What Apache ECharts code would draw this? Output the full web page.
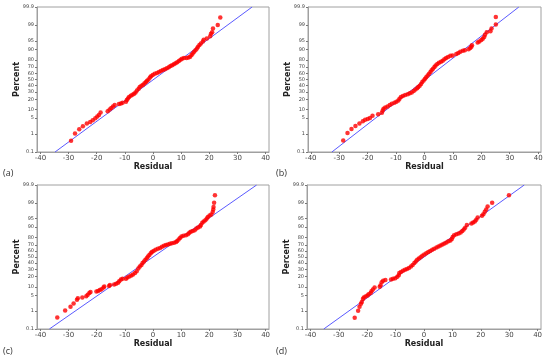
<!DOCTYPE html>
<html><head><meta charset="utf-8">
<script src="https://cdn.jsdelivr.net/npm/echarts@6/dist/echarts.min.js"></script>
<style>html,body{margin:0;padding:0;background:#fff}#c{width:550px;height:360px}</style>
</head><body><div id="c"></div>
<script>
// ---- data (residual, percent) ----
const resA = [-29.1,-27.7,-26.2,-24.9,-23.5,-22.3,-21.4,-20.5,-19.8,-19.2,-18.6,-16.1,-15.4,-14.8,-14.2,-13.6,-12.1,-11.4,-10.8,-9.6,-9.3,-8.9,-8.5,-7.9,-7.3,-6.7,-6.2,-5.7,-5.1,-4.7,-4.1,-3.5,-3.0,-2.5,-2.1,-1.6,-1.1,-0.7,-0.1,0.6,1.4,2.1,2.8,3.5,4.2,4.9,5.6,6.2,6.8,7.4,8.0,8.6,9.2,9.8,10.3,11.0,11.9,12.6,13.2,13.7,14.1,14.6,15.1,15.6,16.0,16.5,17.0,17.7,18.0,19.1,20.3,20.6,21.0,21.3,23.0,23.9];
const pctA = [0.45,1.07,1.70,2.33,3.01,3.51,4.09,4.95,5.71,6.55,7.93,8.85,10.0,11.3,12.5,13.8,14.9,15.4,16.1,17.1,19.2,20.9,22.7,24.5,25.8,27.1,29.1,31.9,34.8,37.4,39.7,41.3,43.6,45.6,48.0,50.0,53.2,55.6,57.5,59.5,61.0,62.6,64.1,65.9,67.0,68.4,69.8,71.6,72.9,74.2,75.5,77.0,78.5,80.0,81.1,81.9,82.1,82.6,83.4,85.1,86.7,88.1,89.4,90.7,91.8,92.9,93.8,94.7,95.5,96.0,96.7,97.45,97.8,98.5,99.0,99.59];

const resB = [-28.6,-27.1,-25.7,-24.3,-22.9,-21.7,-20.9,-20.0,-19.2,-18.3,-16.3,-15.0,-14.7,-14.4,-13.8,-13.0,-12.2,-11.5,-10.6,-9.9,-9.2,-8.8,-8.3,-7.6,-6.8,-5.9,-5.2,-4.5,-3.8,-3.2,-2.6,-2.2,-1.7,-1.2,-0.8,-0.3,0.2,0.6,1.1,1.6,2.1,2.5,3.0,3.5,3.9,4.5,5.1,5.8,6.4,7.0,7.6,8.3,9.1,9.9,11.2,11.9,12.6,13.5,14.2,15.5,16.1,16.5,16.7,18.7,19.3,20.0,20.5,21.0,21.3,21.9,23.2,23.6,25.1,25.1];
const pctB = [0.47,1.13,1.74,2.39,3.07,3.75,4.27,4.65,5.05,6.06,6.94,7.78,9.34,10.56,11.7,12.5,13.8,15.15,16.1,17.1,18.4,20.6,22.7,24.2,25.5,26.4,27.8,29.1,31.2,33.4,35.6,37.4,39.7,42.5,45.6,48.4,51.2,54.0,56.7,59.5,62.6,65.2,67.7,70.2,72.6,74.5,76.4,77.6,78.8,80.5,82.1,83.1,84.4,84.8,86.2,87.1,88.1,88.9,89.4,90.1,91.0,91.9,92.8,94.3,94.7,95.35,95.9,96.5,97.2,97.8,98.0,98.5,99.04,99.61];

const resC = [-34.0,-31.2,-29.3,-28.2,-27.0,-26.7,-25.1,-23.7,-23.2,-22.6,-22.2,-20.1,-19.5,-18.9,-18.3,-17.6,-17.3,-15.6,-15.3,-13.8,-13.1,-12.4,-12.0,-11.4,-10.8,-9.6,-9.1,-8.4,-7.7,-7.1,-6.4,-5.8,-5.2,-4.7,-4.1,-3.7,-3.2,-2.7,-2.2,-1.8,-1.3,-0.8,-0.4,0.2,0.9,1.7,2.5,3.2,3.9,4.6,5.3,6.0,6.7,7.5,8.2,8.6,9.1,9.6,10.1,10.8,11.7,12.4,12.9,13.4,14.1,14.8,15.4,16.0,16.7,17.0,17.5,18.0,18.6,19.1,19.5,20.1,20.7,21.2,21.4,21.5,21.7,22.0];
const pctC = [0.47,1.07,1.62,2.28,3.36,3.84,4.09,4.65,5.26,6.18,6.68,6.94,7.21,7.78,8.38,9.51,10.2,10.75,11.5,11.9,12.5,13.35,14.9,16.6,17.4,17.6,18.9,20.0,21.5,22.7,24.5,27.1,31.2,34.1,36.7,39.7,42.5,45.2,48.0,50.8,53.6,56.4,58.7,60.3,62.2,63.7,65.2,67.0,68.4,69.5,70.5,71.6,72.2,72.9,73.9,75.5,77.3,79.4,81.1,81.9,82.6,83.6,85.1,86.0,86.7,87.5,88.9,89.8,90.5,91.6,92.9,93.6,94.3,95.05,95.7,96.25,96.6,97.3,97.9,98.4,99.0,99.6];

const resD = [-24.4,-23.2,-22.7,-22.2,-21.9,-21.5,-21.2,-20.6,-19.9,-19.5,-18.8,-18.5,-18.0,-17.4,-15.6,-15.3,-14.9,-14.4,-13.6,-11.6,-10.9,-10.1,-9.4,-8.9,-8.7,-8.1,-7.4,-6.7,-6.0,-5.3,-4.6,-4.0,-3.4,-2.9,-2.4,-1.8,-1.2,-0.6,0.1,0.8,1.5,2.2,2.9,3.6,4.4,5.1,5.8,6.5,7.2,7.9,8.6,9.3,9.8,10.1,10.6,11.4,12.2,12.9,13.5,14.0,14.5,15.1,16.7,17.3,17.9,18.4,18.9,20.4,20.9,21.4,21.9,22.4,24.0,29.9];
const pctD = [0.45,1.04,1.62,2.22,2.68,3.59,4.09,4.46,4.95,5.48,6.18,7.08,8.08,9.51,10.03,11.31,14.0,15.4,16.1,16.6,17.4,18.1,19.8,21.8,24.5,26.1,27.8,29.1,30.5,31.9,34.1,36.7,39.7,42.5,45.2,47.6,49.6,52.0,54.4,56.4,58.7,60.3,62.2,63.7,65.9,67.4,68.8,70.5,71.9,73.2,74.9,76.1,77.9,80.5,82.6,83.6,84.4,85.3,86.7,88.1,89.6,91.6,92.5,93.1,93.6,94.5,95.5,96.2,96.7,97.4,97.9,98.5,99.0,99.6];

// fitted reference lines: residual at 0.1% and 99.9%
const fitPct = [0.1, 99.9];
const fitResA = [-34.8, 35.2];
const fitResB = [-32.6, 33.2];
const fitResC = [-36.8, 36.8];
const fitResD = [-35.3, 35.3];

const xTicks = [-40,-30,-20,-10,0,10,20,30,40];
const yTickLabels = ['0.1','1','5','10','20','30','40','50','60','70','80','90','95','99','99.9'];
const panelNames = ['(a)','(b)','(c)','(d)'];

// ---- normal probability scale (inverse normal CDF) ----
function probit(p){
  const a=[-3.969683028665376e+01,2.209460984245205e+02,-2.759285104469687e+02,1.383577518672690e+02,-3.066479806614716e+01,2.506628277459239e+00];
  const b=[-5.447609879822406e+01,1.615858368580409e+02,-1.556989798598866e+02,6.680131188771972e+01,-1.328068155288572e+01];
  const c=[-7.784894002430293e-03,-3.223964580411365e-01,-2.400758277161838e+00,-2.549732539343734e+00,4.374664141464968e+00,2.938163982698783e+00];
  const d=[7.784695709041462e-03,3.224671290700398e-01,2.445134137142996e+00,3.754408661907416e+00];
  const pl=0.02425; let q,r;
  if(p<pl){q=Math.sqrt(-2*Math.log(p));return (((((c[0]*q+c[1])*q+c[2])*q+c[3])*q+c[4])*q+c[5])/((((d[0]*q+d[1])*q+d[2])*q+d[3])*q+1);}
  if(p<=1-pl){q=p-0.5;r=q*q;return (((((a[0]*r+a[1])*r+a[2])*r+a[3])*r+a[4])*r+a[5])*q/(((((b[0]*r+b[1])*r+b[2])*r+b[3])*r+b[4])*r+1);}
  q=Math.sqrt(-2*Math.log(1-p));return -(((((c[0]*q+c[1])*q+c[2])*q+c[3])*q+c[4])*q+c[5])/((((d[0]*q+d[1])*q+d[2])*q+d[3])*q+1);
}
const zOf = pct => probit(pct/100);
const yTickVals = yTickLabels.map(s => zOf(parseFloat(s)));
const zMin = zOf(0.1), zMax = zOf(99.9);
function yLabel(v){
  let best=0, bd=1e9;
  yTickVals.forEach((t,i)=>{const d=Math.abs(t-v); if(d<bd){bd=d;best=i;}});
  return yTickLabels[best];
}

const panels = [
  {res:resA, pct:pctA, fit:fitResA, grid:{left:37, top:7, width:232, height:145}, xr:41.2},
  {res:resB, pct:pctB, fit:fitResB, grid:{left:308, top:7, width:233, height:145}, xr:41},
  {res:resC, pct:pctC, fit:fitResC, grid:{left:37, top:185, width:232, height:144}, xr:41.2},
  {res:resD, pct:pctD, fit:fitResD, grid:{left:307, top:185, width:234, height:144}, xr:41.2}
];

const grids=[], xAxes=[], yAxes=[], series=[];
const fontFam = '"DejaVu Sans", Verdana, sans-serif';
panels.forEach((p,i)=>{
  grids.push(Object.assign({show:true, borderColor:'#a0a0a0', borderWidth:1, backgroundColor:'#fff'}, p.grid));
  xAxes.push({
    type:'value', gridIndex:i, min:-p.xr, max:p.xr,
    name:'Residual', nameLocation:'middle', nameGap:10,
    nameTextStyle:{fontSize:8, fontWeight:'bold', color:'#222', fontFamily:fontFam},
    axisLine:{show:true, onZero:false, lineStyle:{color:'#a0a0a0'}},
    axisTick:{show:true, length:2, customValues:xTicks, lineStyle:{color:'#777'}},
    axisLabel:{customValues:xTicks, fontSize:7, color:'#444', margin:3, fontFamily:fontFam},
    splitLine:{show:false}
  });
  yAxes.push({
    type:'value', gridIndex:i, min:zMin, max:zMax,
    name:'Percent', nameLocation:'middle', nameGap:16, nameMoveOverlap:false,
    nameTextStyle:{fontSize:8, fontWeight:'bold', color:'#222', fontFamily:fontFam},
    axisLine:{show:true, onZero:false, lineStyle:{color:'#a0a0a0'}},
    axisTick:{show:true, length:2, customValues:yTickVals, lineStyle:{color:'#777'}},
    axisLabel:{customValues:yTickVals, fontSize:5, color:'#444', margin:3, fontFamily:fontFam, formatter:yLabel},
    splitLine:{show:false}
  });
  series.push({
    type:'line', xAxisIndex:i, yAxisIndex:i, symbol:'none', silent:true,
    data: p.fit.map((x,k)=>[x, zOf(fitPct[k])]),
    lineStyle:{color:'#5a5aff', width:1}, animation:false, z:1
  });
  series.push({
    type:'scatter', xAxisIndex:i, yAxisIndex:i, symbol:'circle', symbolSize:4.5,
    data: p.res.map((x,k)=>[x, zOf(p.pct[k])]),
    itemStyle:{color:'#ff0000'}, animation:false, z:2
  });
});

const chart = echarts.init(document.getElementById('c'), null, {renderer:'canvas'});
chart.setOption({
  backgroundColor:'#fff',
  animation:false,
  grid:grids, xAxis:xAxes, yAxis:yAxes, series:series,
  graphic:[
    {type:'text', left:3, top:169, style:{text:panelNames[0], fontSize:9, fill:'#333', fontFamily:'"Open Sans", sans-serif'}},
    {type:'text', left:276, top:169, style:{text:panelNames[1], fontSize:9, fill:'#333', fontFamily:'"Open Sans", sans-serif'}},
    {type:'text', left:3, top:347, style:{text:panelNames[2], fontSize:9, fill:'#333', fontFamily:'"Open Sans", sans-serif'}},
    {type:'text', left:276, top:347, style:{text:panelNames[3], fontSize:9, fill:'#333', fontFamily:'"Open Sans", sans-serif'}}
  ]
});
</script></body></html>
